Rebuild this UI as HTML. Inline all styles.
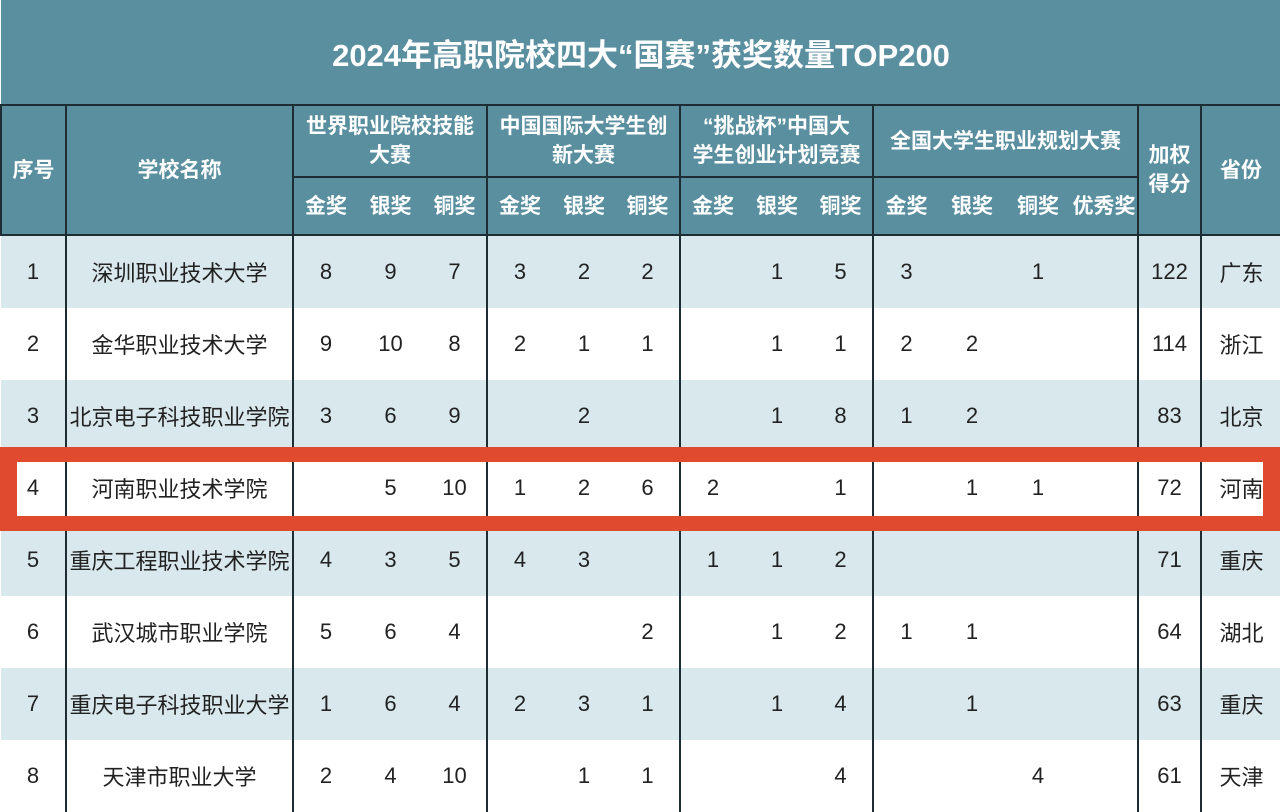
<!DOCTYPE html>
<html><head><meta charset="utf-8"><style>
body{margin:0;width:1280px;height:809px;overflow:hidden;background:#fff;font-family:"Liberation Sans","Noto Sans CJK SC",sans-serif;position:relative}
table{border-collapse:collapse;table-layout:fixed;position:absolute;left:0;top:0;width:1280px}
td{text-align:center;vertical-align:middle;padding:0;overflow:hidden;white-space:nowrap}
.title td{height:104px;background:#5a8fa0;color:#fff;font-weight:bold;font-size:31px;border-bottom:2px solid #1e2d33}
.h td{background:#5a8fa0;color:#fff;font-weight:bold;font-size:21px;border:2px solid #1e2d33;line-height:29px}
.h1 td{height:70px}.h2 td{height:56px}
.h2 td{border-left:none;border-right:none}
.d td{height:72px;font-size:22px;color:#222}
.d td.b{border-left:2px solid #1e2d33}
.l td{background:#d9e8ed}
.box{position:absolute;left:0;top:447px;width:1280px;height:84px;box-sizing:border-box;border:15px solid #e04a2e;border-left-width:17px;border-right-width:17px}
</style></head><body>
<table>
<colgroup><col style="width:65px"><col style="width:227px"><col style="width:65px"><col style="width:65px"><col style="width:64px"><col style="width:65px"><col style="width:64px"><col style="width:64px"><col style="width:65px"><col style="width:64px"><col style="width:64px"><col style="width:66px"><col style="width:66px"><col style="width:66px"><col style="width:67px"><col style="width:63px"><col style="width:80px"></colgroup>
<tr class="title"><td colspan="17">2024年高职院校四大“国赛”获奖数量TOP200</td></tr>
<tr class="h h1"><td rowspan="2">序号</td><td rowspan="2">学校名称</td><td colspan="3">世界职业院校技能<br>大赛</td><td colspan="3">中国国际大学生创<br>新大赛</td><td colspan="3">“挑战杯”中国大<br>学生创业计划竞赛</td><td colspan="4">全国大学生职业规划大赛</td><td rowspan="2">加权<br>得分</td><td rowspan="2">省份</td></tr>
<tr class="h h2"><td style="border-left:2px solid #1e2d33">金奖</td><td>银奖</td><td>铜奖</td><td style="border-left:2px solid #1e2d33">金奖</td><td>银奖</td><td>铜奖</td><td style="border-left:2px solid #1e2d33">金奖</td><td>银奖</td><td>铜奖</td><td style="border-left:2px solid #1e2d33">金奖</td><td>银奖</td><td>铜奖</td><td style="border-right:2px solid #1e2d33">优秀奖</td></tr>
<tr class="d l"><td>1</td><td class="b">深圳职业技术大学</td><td class="b">8</td><td>9</td><td>7</td><td class="b">3</td><td>2</td><td>2</td><td class="b"></td><td>1</td><td>5</td><td class="b">3</td><td></td><td>1</td><td></td><td class="b">122</td><td class="b">广东</td></tr>
<tr class="d"><td>2</td><td class="b">金华职业技术大学</td><td class="b">9</td><td>10</td><td>8</td><td class="b">2</td><td>1</td><td>1</td><td class="b"></td><td>1</td><td>1</td><td class="b">2</td><td>2</td><td></td><td></td><td class="b">114</td><td class="b">浙江</td></tr>
<tr class="d l"><td>3</td><td class="b">北京电子科技职业学院</td><td class="b">3</td><td>6</td><td>9</td><td class="b"></td><td>2</td><td></td><td class="b"></td><td>1</td><td>8</td><td class="b">1</td><td>2</td><td></td><td></td><td class="b">83</td><td class="b">北京</td></tr>
<tr class="d"><td>4</td><td class="b">河南职业技术学院</td><td class="b"></td><td>5</td><td>10</td><td class="b">1</td><td>2</td><td>6</td><td class="b">2</td><td></td><td>1</td><td class="b"></td><td>1</td><td>1</td><td></td><td class="b">72</td><td class="b">河南</td></tr>
<tr class="d l"><td>5</td><td class="b">重庆工程职业技术学院</td><td class="b">4</td><td>3</td><td>5</td><td class="b">4</td><td>3</td><td></td><td class="b">1</td><td>1</td><td>2</td><td class="b"></td><td></td><td></td><td></td><td class="b">71</td><td class="b">重庆</td></tr>
<tr class="d"><td>6</td><td class="b">武汉城市职业学院</td><td class="b">5</td><td>6</td><td>4</td><td class="b"></td><td></td><td>2</td><td class="b"></td><td>1</td><td>2</td><td class="b">1</td><td>1</td><td></td><td></td><td class="b">64</td><td class="b">湖北</td></tr>
<tr class="d l"><td>7</td><td class="b">重庆电子科技职业大学</td><td class="b">1</td><td>6</td><td>4</td><td class="b">2</td><td>3</td><td>1</td><td class="b"></td><td>1</td><td>4</td><td class="b"></td><td>1</td><td></td><td></td><td class="b">63</td><td class="b">重庆</td></tr>
<tr class="d"><td>8</td><td class="b">天津市职业大学</td><td class="b">2</td><td>4</td><td>10</td><td class="b"></td><td>1</td><td>1</td><td class="b"></td><td></td><td>4</td><td class="b"></td><td></td><td>4</td><td></td><td class="b">61</td><td class="b">天津</td></tr>
</table>
<div class="box"></div>
</body></html>
